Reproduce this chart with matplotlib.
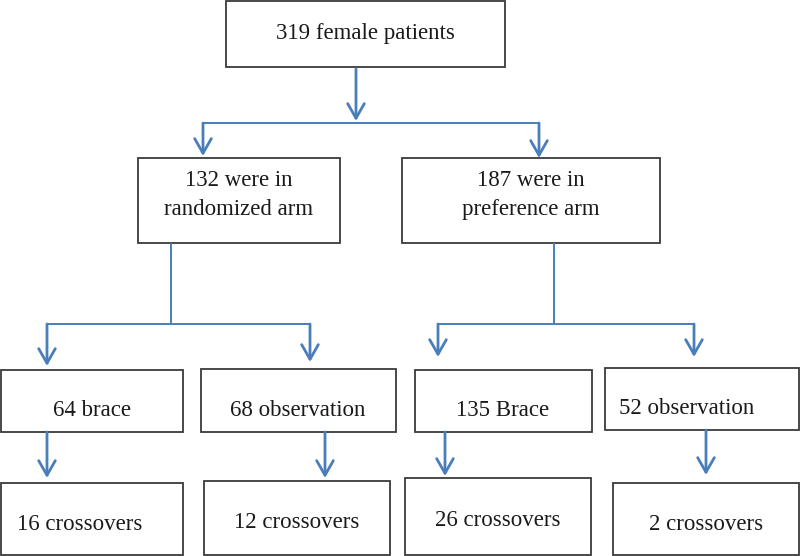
import matplotlib.pyplot as plt
from matplotlib.patches import Rectangle

plt.rcParams['font.family'] = ['Liberation Serif', 'DejaVu Serif']

# box labels, top to bottom
top_label = "319 female patients"
arm_labels = ["132 were in\nrandomized arm", "187 were in\npreference arm"]
group_labels = ["64 brace", "68 observation", "135 Brace", "52 observation"]
crossover_labels = ["16 crossovers", "12 crossovers", "26 crossovers", "2 crossovers"]

# layout in pixel coords (x0, y0, x1, y1), y down
top_box = (226, 1, 505, 67)
arm_boxes = [(138, 158, 340, 243), (402, 158, 660, 243)]
group_boxes = [(1, 370, 183, 432), (201, 369, 396, 432),
               (415, 370, 592, 432), (605, 368, 799, 430)]
cross_boxes = [(1, 483, 183, 555), (204, 481, 390, 555),
               (405, 478, 591, 555), (613, 483, 799, 555)]
group_text_x = [92, 298, 503, 687]
cross_text_x = [80, 297, 498, 706]

BLUE = '#4a7ebb'
EDGE = '#3a3a3a'
FS = 16.5

fig = plt.figure(figsize=(8, 5.56), dpi=100)
ax = fig.add_axes([0, 0, 1, 1])
ax.set_xlim(0, 800)
ax.set_ylim(556, 0)
ax.axis('off')


def box(b, text, tx=None, ty=None):
    x0, y0, x1, y1 = b
    ax.add_patch(Rectangle((x0, y0), x1 - x0, y1 - y0, fill=False,
                           edgecolor=EDGE, lw=1.3))
    if tx is None:
        tx = (x0 + x1) / 2
    if ty is None:
        ty = (y0 + y1) / 2
    ax.text(tx, ty, text, ha='center', va='center', fontsize=FS,
            color='#1a1a1a', linespacing=1.45)


def line(xs, ys):
    ax.plot(xs, ys, color=BLUE, lw=1.4, solid_capstyle='butt')


def arrow(x, y0, y1):
    ax.annotate('', xy=(x, y1), xytext=(x, y0),
                arrowprops=dict(arrowstyle='->,head_length=10.5,head_width=6',
                                mutation_scale=1, color=BLUE, lw=2,
                                shrinkA=0, shrinkB=0))


box(top_box, top_label, ty=33)
box(arm_boxes[0], arm_labels[0], ty=195)
box(arm_boxes[1], arm_labels[1], ty=195)
for b, t, tx in zip(group_boxes, group_labels, group_text_x):
    box(b, t, tx=tx, ty=b[1] + 41)
for b, t, tx in zip(cross_boxes, crossover_labels, cross_text_x):
    box(b, t, tx=tx, ty=b[1] + 42)

# top -> arms
arrow(356, 69, 121)
line([203, 539], [123, 123])
arrow(203, 123, 156)
arrow(539, 123, 158)

# randomized arm split
line([171, 171], [243, 324])
line([47, 310], [324, 324])
arrow(47, 324, 366)
arrow(310, 324, 362)

# preference arm split
line([554, 554], [243, 324])
line([438, 694], [324, 324])
arrow(438, 324, 357)
arrow(694, 324, 357)

# groups -> crossovers
arrow(47, 432, 478)
arrow(325, 432, 478)
arrow(445, 432, 476)
arrow(706, 430, 475)

fig.savefig('out.png', dpi=100)
